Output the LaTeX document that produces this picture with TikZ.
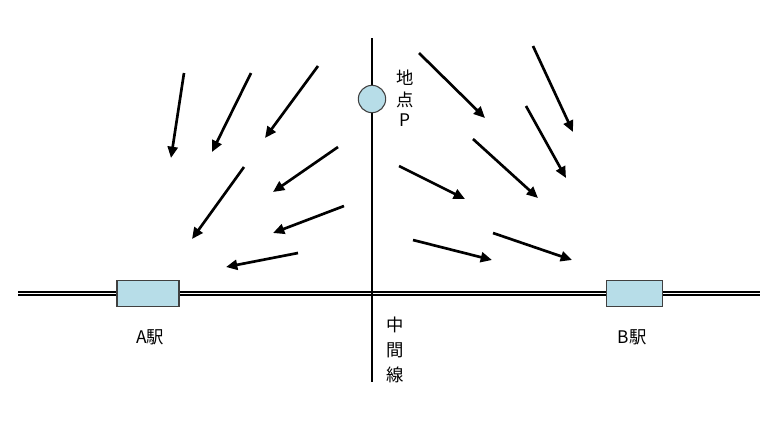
\documentclass[tikz,border=0pt]{standalone}
\usepackage{fontspec}
\setmainfont{Noto Sans CJK JP}
\usetikzlibrary{arrows.meta}
\definecolor{stationblue}{HTML}{B7DDE8}
\begin{document}
\begin{tikzpicture}[
  x=0.75pt, y=-0.75pt,
  station/.style={rectangle, draw=black!75, fill=stationblue, line width=0.8pt, minimum height=20pt, inner sep=0pt},
  point/.style={circle, draw=black!75, fill=stationblue, line width=0.8pt, minimum size=20.5pt, inner sep=0pt},
  rail/.style={double, line width=1.5pt, double distance=1.1pt},
  wind/.style={-{Triangle[length=8.5pt,width=7.5pt]}, line width=2pt},
  label/.style={font=\fontsize{13}{18.75}\selectfont, align=center, inner sep=0pt},
  font=\fontsize{13}{16}\selectfont
]
\useasboundingbox (0,0) rectangle (779,426);
\coordinate (railW) at (18,293.5);
\coordinate (railE) at (760,293.5);
\coordinate (midtop) at (372,38);
\coordinate (midbot) at (372,382);

\draw[rail] (railW) -- (railE);
\draw[line width=0.9pt] (midtop) -- (midbot);

\node[station, minimum width=46.5pt] (stA) at (148,293.5) {};
\node[station, minimum width=41.5pt] (stB) at (634.5,293.5) {};
\node[point] (P) at (372,99) {};

\node[label] (labA) at (150,337) {A駅};
\node[label] (labB) at (632,337) {B駅};
\node[label, font=\fontsize{13}{17}\selectfont] (labP) at (405,98) {地\\点\\[-2.5pt]P};
\node[label] (labmid) at (395,349.5) {中\\間\\線};

% wind arrows
\foreach \sx/\sy/\ex/\ey in {184/73/171/158, 251/73/212/152, 318/66/265/138,
  338/147/273/192, 244/167/192/239, 344/206/273/233, 298/253/226/267,
  419/53/485/118, 533/46/573/132, 526/106/566/178, 473/139/538/198,
  399/166/465/199, 413/240/492/260, 493/233/572/260}
  \draw[wind] (\sx,\sy) -- (\ex,\ey);
\end{tikzpicture}
\end{document}
